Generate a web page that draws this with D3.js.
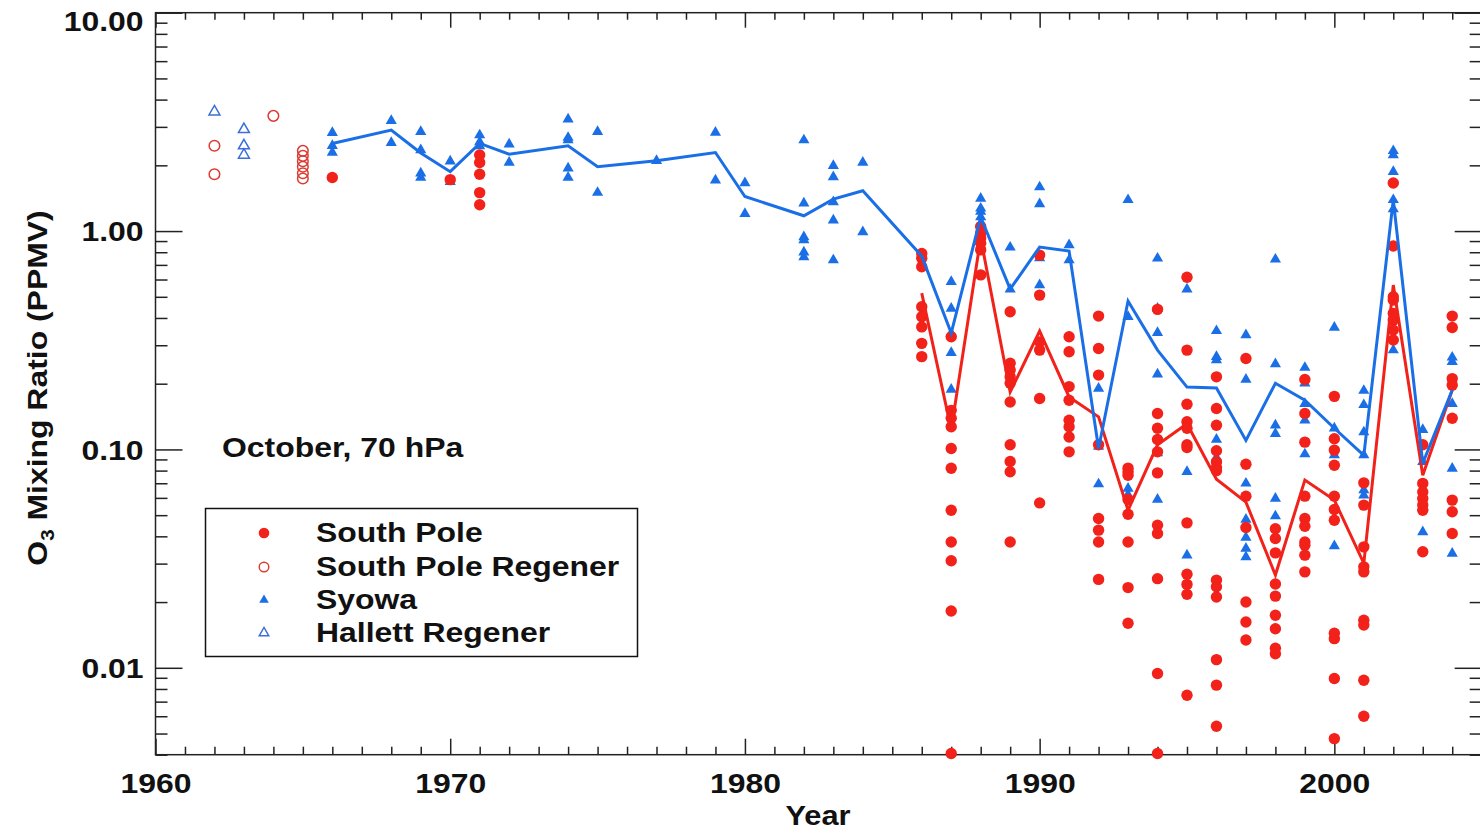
<!DOCTYPE html>
<html><head><meta charset="utf-8">
<script src="https://cdn.jsdelivr.net/npm/d3@7"></script>
<style>body{margin:0;background:#fff} svg{display:block}</style>
</head><body><svg id="c" width="1480" height="832"></svg>
<script>
// ---------------- DATA ----------------
const hallettYears = [1962, 1963];
const hallettValues = [[3.52], [2.92, 2.46, 2.23]];

const spRegenerYears = [1962, 1964, 1965];
const spRegenerValues = [[2.46, 1.82], [3.37], [2.33, 2.21, 2.09, 1.97, 1.84, 1.74]];

const syowaYears = [1966,1968,1969,1970,1971,1972,1974,1975,1977,1979,1980,1982,1983,1984,1986,1987,1988,1989,1990,1991,1992,1993,1994,1995,1996,1997,1998,1999,2000,2001,2002,2003,2004];
const syowaValues = [
  [2.82, 2.46, 2.29],
  [3.20, 2.54],
  [2.85, 2.35, 1.84, 1.76],
  [2.09, 1.68],
  [2.75, 2.56, 2.45],
  [2.50, 2.06],
  [3.25, 2.68, 2.61, 1.94, 1.76],
  [2.85, 1.50],
  [2.10],
  [2.83, 1.71],
  [1.66, 1.20],
  [2.61, 1.34, 0.94, 0.91, 0.80, 0.76],
  [1.99, 1.77, 1.36, 1.12, 0.736],
  [2.06, 0.99],
  [0.77],
  [0.586, 0.442, 0.340, 0.277, 0.188],
  [1.41, 1.27, 1.23, 1.16],
  [0.842, 0.541],
  [1.59, 1.33, 0.752, 0.566],
  [0.863, 0.736],
  [0.190, 0.103, 0.0694],
  [1.39, 0.405, 0.0663, 0.062],
  [0.750, 0.442, 0.342, 0.221, 0.0962, 0.059],
  [0.542, 0.079, 0.0328],
  [0.349, 0.266, 0.257, 0.111, 0.0919],
  [0.334, 0.209, 0.0699, 0.0478, 0.0395, 0.0352, 0.0322],
  [0.742, 0.246, 0.129, 0.118, 0.0596, 0.0495],
  [0.237, 0.201, 0.162, 0.136, 0.0952],
  [0.362, 0.125, 0.0942, 0.0361],
  [0.186, 0.160, 0.120, 0.0942, 0.0651, 0.0617],
  [2.33, 2.23, 1.87, 1.39, 1.26, 0.285],
  [0.123, 0.0877, 0.0419],
  [0.264, 0.252, 0.162, 0.0818, 0.0334]
];
const syowaMean = [2.52, 2.90, 2.28, 1.87, 2.52, 2.25, 2.46, 1.97, 2.10, 2.29, 1.44, 1.175, 1.40, 1.53, 0.768, 0.341, 1.16, 0.542, 0.845, 0.810, 0.101, 0.478, 0.285, 0.193, 0.191, 0.110, 0.201, 0.168, 0.125, 0.094, 1.39, 0.0865, 0.187];

const spYears = [1966,1970,1971,1986,1987,1988,1989,1990,1991,1992,1993,1994,1995,1996,1997,1998,1999,2000,2001,2002,2003,2004];
const spValues = [
  [1.76],
  [1.72],
  [2.23, 2.06, 1.82, 1.50, 1.32],
  [0.790, 0.750, 0.686, 0.450, 0.405, 0.364, 0.306, 0.266],
  [0.328, 0.151, 0.139, 0.127, 0.101, 0.082, 0.0527, 0.0377, 0.0309, 0.0182, 0.00405],
  [1.05, 0.98, 0.93, 0.88, 0.82, 0.63],
  [0.427, 0.248, 0.231, 0.215, 0.201, 0.165, 0.105, 0.088, 0.079, 0.0377],
  [0.776, 0.509, 0.311, 0.285, 0.171, 0.0569],
  [0.328, 0.280, 0.194, 0.168, 0.136, 0.127, 0.114, 0.0975],
  [0.408, 0.290, 0.219, 0.105, 0.0483, 0.0427, 0.0377, 0.0254],
  [0.0821, 0.079, 0.0762, 0.059, 0.0505, 0.0377, 0.0233, 0.0160],
  [0.438, 0.146, 0.125, 0.111, 0.0975, 0.0781, 0.045, 0.0412, 0.0256, 0.00942, 0.00405],
  [0.614, 0.285, 0.161, 0.134, 0.125, 0.105, 0.102, 0.0461, 0.0268, 0.0241, 0.0217, 0.00749],
  [0.215, 0.154, 0.129, 0.0986, 0.0877, 0.0827, 0.080, 0.0252, 0.0235, 0.0211, 0.0109, 0.00833, 0.0054],
  [0.261, 0.0856, 0.0611, 0.0439, 0.020, 0.0162, 0.0134],
  [0.0433, 0.0391, 0.0336, 0.0242, 0.0213, 0.0174, 0.0151, 0.0123, 0.0116],
  [0.209, 0.146, 0.108, 0.0611, 0.0483, 0.0445, 0.0377, 0.0364, 0.0328, 0.0275],
  [0.175, 0.112, 0.0993, 0.0847, 0.0611, 0.0531, 0.0474, 0.0144, 0.0136, 0.00893, 0.00474],
  [0.0703, 0.0556, 0.0358, 0.029, 0.0275, 0.0165, 0.0157, 0.00877, 0.006],
  [1.66, 0.854, 0.500, 0.483, 0.420, 0.391, 0.352, 0.317],
  [0.105, 0.0699, 0.0639, 0.0596, 0.0556, 0.0527, 0.034],
  [0.408, 0.362, 0.211, 0.197, 0.139, 0.0586, 0.0518, 0.0412]
];
const spMeanYears = d3.range(1986, 2005);
const spMean = [0.520, 0.123, 0.929, 0.183, 0.348, 0.174, 0.141, 0.0527, 0.105, 0.131, 0.0731, 0.0574, 0.0266, 0.0724, 0.0586, 0.0301, 0.566, 0.0762, 0.187];

const yTickValues = [0.01, 0.1, 1, 10];
const xTickValues = [1960, 1970, 1980, 1990, 2000];
const legendLabels = ["South Pole", "South Pole Regener", "Syowa", "Hallett Regener"];

// ---------------- DRAW ----------------
const FONT = "'Liberation Sans', Arial, Helvetica, sans-serif";
const SX = 1.14;
const RED = "#f2211a", BLUE = "#1a6fe6", RED_OPEN = "#dc3a32", BLUE_OPEN = "#3a6fd9";
const L = 155.5, R = 1481.7, T = 12.7, B = 754.7;

const x = d3.scaleLinear().domain([1960, 2005]).range([L, R]);
const y = d3.scaleLog().domain([0.004, 10]).range([B, T]);

const svg = d3.select('#c');
svg.append('rect').attr('width', 1480).attr('height', 832).attr('fill', '#fff');

function flat(years, values) {
  return years.flatMap((yr, i) => values[i].map(v => ({year: yr, value: v})));
}
function pairs(years, values) { return years.map((yr, i) => ({year: yr, value: values[i]})); }

const yMinor = [];
[0.001, 0.01, 0.1, 1].forEach(d => { for (let k = 2; k <= 9; k++) { const v = k * d; if (v >= 0.004 && v < 10) yMinor.push(v); } });
const xMinor = d3.range(1961, 2005).filter(v => v % 10 !== 0);

function styleAxis(g) {
  g.select('.domain').remove();
  g.attr('color', '#222');
  g.selectAll('line').attr('stroke-width', 1.5);
}
function styleLabels(g, shiftFn) {
  g.selectAll('text').each(function(d) {
    const t = d3.select(this);
    const xx = +t.attr('x') || 0, yy = (+t.attr('y') || 0) + (shiftFn ? shiftFn(d) : 0);
    t.attr('x', 0).attr('y', 0)
     .attr('transform', `translate(${xx},${yy}) scale(${SX},1)`)
     .attr('font-family', FONT).attr('font-weight', 'bold').attr('font-size', 28).attr('fill', '#111');
  });
}

// left axis
svg.append('g').attr('transform', `translate(${L},0)`)
  .call(d3.axisLeft(y).tickValues(yMinor).tickSize(-12).tickFormat('').tickSizeOuter(0)).call(styleAxis);
svg.append('g').attr('transform', `translate(${L},0)`)
  .call(d3.axisLeft(y).tickValues(yTickValues).tickSize(-27).tickPadding(12).tickFormat(d3.format('.2f')).tickSizeOuter(0))
  .call(styleAxis).call(g => { styleLabels(g, d => d === 10 ? 7.5 : 0); g.selectAll('text').attr('dy', '0.35em'); });
// right axis
svg.append('g').attr('transform', `translate(${R},0)`)
  .call(d3.axisRight(y).tickValues(yMinor).tickSize(-12).tickFormat('').tickSizeOuter(0)).call(styleAxis);
svg.append('g').attr('transform', `translate(${R},0)`)
  .call(d3.axisRight(y).tickValues(yTickValues).tickSize(-27).tickFormat('').tickSizeOuter(0)).call(styleAxis);
// bottom axis
svg.append('g').attr('transform', `translate(0,${B})`)
  .call(d3.axisBottom(x).tickValues(xMinor).tickSize(-8).tickFormat('').tickSizeOuter(0)).call(styleAxis);
svg.append('g').attr('transform', `translate(0,${B})`)
  .call(d3.axisBottom(x).tickValues(xTickValues).tickSize(-16).tickPadding(18).tickFormat(d3.format('d')).tickSizeOuter(0))
  .call(styleAxis).call(g => { styleLabels(g); });
// top axis
svg.append('g').attr('transform', `translate(0,${T})`)
  .call(d3.axisTop(x).tickValues(xMinor).tickSize(-7).tickFormat('').tickSizeOuter(0)).call(styleAxis);
svg.append('g').attr('transform', `translate(0,${T})`)
  .call(d3.axisTop(x).tickValues(xTickValues).tickSize(-15).tickFormat('').tickSizeOuter(0)).call(styleAxis);

// frame
svg.append('rect').attr('x', L).attr('y', T).attr('width', R - L).attr('height', B - T)
  .attr('fill', 'none').attr('stroke', '#222').attr('stroke-width', 1.5);

const plot = svg.append('g');
const tri = d3.symbol().type(d3.symbolTriangle);

// Hallett Regener (open triangles)
plot.selectAll('.hal').data(flat(hallettYears, hallettValues)).join('path')
  .attr('d', tri.size(52)()).attr('transform', d => `translate(${x(d.year)},${y(d.value)})`)
  .attr('fill', 'none').attr('stroke', BLUE_OPEN).attr('stroke-width', 1.5);
// South Pole Regener (open circles)
plot.selectAll('.spr').data(flat(spRegenerYears, spRegenerValues)).join('circle')
  .attr('cx', d => x(d.year)).attr('cy', d => y(d.value)).attr('r', 5.3)
  .attr('fill', 'none').attr('stroke', RED_OPEN).attr('stroke-width', 1.5);
// Syowa (filled triangles)
plot.append('g').selectAll('path').data(flat(syowaYears, syowaValues)).join('path')
  .attr('d', tri.size(54)()).attr('transform', d => `translate(${x(d.year)},${y(d.value)})`)
  .attr('fill', BLUE);
// South Pole (filled circles)
plot.append('g').selectAll('circle').data(flat(spYears, spValues)).join('circle')
  .attr('cx', d => x(d.year)).attr('cy', d => y(d.value)).attr('r', 5.7).attr('fill', RED);

const line = d3.line().x(d => x(d.year)).y(d => y(d.value));
plot.append('path').datum(pairs(spMeanYears, spMean)).attr('d', line)
  .attr('fill', 'none').attr('stroke', RED).attr('stroke-width', 3).attr('stroke-linejoin', 'miter');
plot.append('path').datum(pairs(syowaYears, syowaMean)).attr('d', line)
  .attr('fill', 'none').attr('stroke', BLUE).attr('stroke-width', 3).attr('stroke-linejoin', 'miter');

// texts
function addText(px, py, str, anchor, size) {
  return svg.append('text').attr('transform', `translate(${px},${py}) scale(${SX},1)`)
    .attr('text-anchor', anchor || 'start').attr('font-family', FONT).attr('font-weight', 'bold')
    .attr('font-size', size || 28).attr('fill', '#111').text(str);
}
addText(222, 457, 'October, 70 hPa');
addText(818, 825, 'Year', 'middle', 27);

const yl = svg.append('text').attr('transform', `translate(47,388) rotate(-90) scale(${SX},1)`)
  .attr('text-anchor', 'middle').attr('font-family', FONT).attr('font-weight', 'bold')
  .attr('font-size', 28).attr('fill', '#111');
yl.append('tspan').text('O');
yl.append('tspan').attr('font-size', 18).attr('dy', 7).text('3');
yl.append('tspan').attr('dy', -7).text(' Mixing Ratio (PPMV)');

// legend
const lg = svg.append('g');
lg.append('rect').attr('x', 205.5).attr('y', 508.5).attr('width', 432).attr('height', 148)
  .attr('fill', 'none').attr('stroke', '#111').attr('stroke-width', 1.5);
const rowY = [533, 567, 600, 633];
lg.append('circle').attr('cx', 264).attr('cy', rowY[0]).attr('r', 5.3).attr('fill', RED);
lg.append('circle').attr('cx', 264).attr('cy', rowY[1]).attr('r', 4.8).attr('fill', 'none').attr('stroke', RED_OPEN).attr('stroke-width', 1.4);
lg.append('path').attr('d', tri.size(40)()).attr('transform', `translate(264,${rowY[2]})`).attr('fill', BLUE);
lg.append('path').attr('d', tri.size(40)()).attr('transform', `translate(264,${rowY[3]})`).attr('fill', 'none').attr('stroke', BLUE_OPEN).attr('stroke-width', 1.4);
legendLabels.forEach((s, i) => addText(316, rowY[i] + 9, s));
</script>
</body></html>
